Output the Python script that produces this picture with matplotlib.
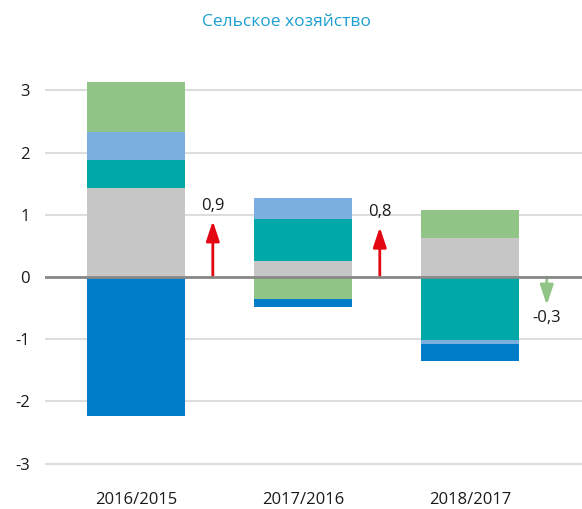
import numpy as np
import matplotlib.pyplot as plt

plt.rcParams['font.family'] = ['Open Sans', 'DejaVu Sans']

years = ['2016/2015', '2017/2016', '2018/2017']
# components of change, stacked from zero outwards
gray = [1.43, 0.25, 0.63]
teal = [0.45, 0.68, -1.01]
light_blue = [0.45, 0.34, -0.06]
green = [0.80, -0.36, 0.45]
blue = [-2.23, -0.13, -0.28]
totals = [0.9, 0.8, -0.3]
total_labels = ['0,9', '0,8', '-0,3']
y_ticks = [-3, -2, -1, 0, 1, 2, 3]

series = [gray, teal, light_blue, green, blue]
colors = ['#C6C6C6', '#00A9A7', '#7AAFDF', '#90C587', '#007DC8']

fig = plt.figure(figsize=(5.82, 5.09), dpi=100)
ax = fig.add_axes([45 / 582, 0.0523, 537 / 582, 0.807])

x = np.arange(len(years))
width = 0.587
pos_base = np.zeros(len(years))
neg_base = np.zeros(len(years))
for vals, c in zip(series, colors):
    vals = np.array(vals)
    bottom = np.where(vals >= 0, pos_base, neg_base)
    ax.bar(x, vals, width, bottom=bottom, color=c, zorder=3)
    pos_base += np.where(vals >= 0, vals, 0)
    neg_base += np.where(vals < 0, vals, 0)

# arrows with total change (short arrows get a minimum length so the head fits)
off = 0.46
min_len = 0.45
for i, t in enumerate(totals):
    col = '#E30613' if t > 0 else '#90C587'
    end = np.sign(t) * max(abs(t), min_len)
    ax.annotate('', xy=(x[i] + off, end), xytext=(x[i] + off, 0),
                arrowprops=dict(arrowstyle='-|>,head_length=1.2,head_width=0.4',
                                color=col, lw=2, shrinkA=0, shrinkB=0), zorder=4)
    if t > 0:
        ax.text(x[i] + off, end + 0.12, total_labels[i], ha='center', va='bottom',
                fontsize=12, color='#1A1A1A')
    else:
        ax.text(x[i] + off, end - 0.08, total_labels[i], ha='center', va='top',
                fontsize=12, color='#1A1A1A')

for yv in y_ticks:
    if yv != 0:
        ax.axhline(yv, color='#DDDDDD', lw=1.5, zorder=1)
ax.axhline(0, color='#888888', lw=2, zorder=5)

ax.set_xlim(-0.545, 2.671)
ax.set_ylim(-3.3, 3.3)
ax.set_yticks(y_ticks)
ax.set_yticklabels([str(v) for v in y_ticks])
ax.set_xticks(x)
ax.set_xticklabels(years)
ax.tick_params(axis='both', length=0, labelsize=12, colors='#1A1A1A')
ax.tick_params(axis='y', pad=11)
ax.tick_params(axis='x', pad=7)
for s in ax.spines.values():
    s.set_visible(False)

fig.text(286 / 582, 1 - 22 / 509, 'Сельское хозяйство', ha='center', va='center',
         fontsize=12.5, color='#1A9FD1')

fig.savefig('out.png', dpi=100)
